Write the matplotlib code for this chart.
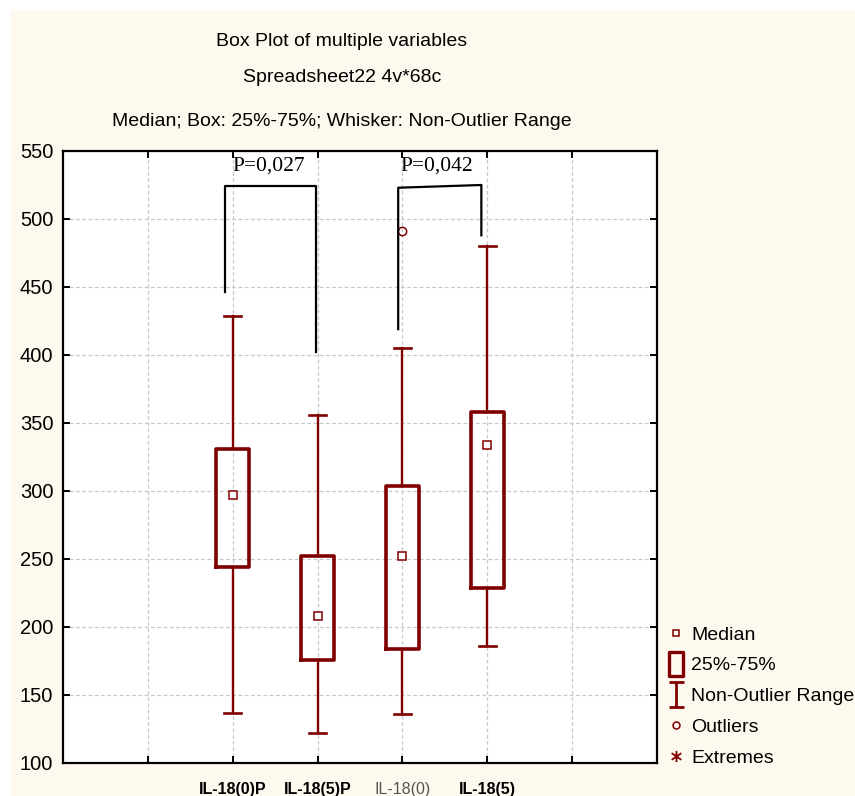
import matplotlib
matplotlib.use('Agg')
import matplotlib.pyplot as plt
from matplotlib.path import Path
from matplotlib.lines import Line2D
from matplotlib.patches import Rectangle
import numpy as np

plt.rcParams['font.family'] = ['Liberation Sans', 'DejaVu Sans']

# ---------------- data ----------------
categories = ['IL-18(0)P', 'IL-18(5)P', 'IL-18(0)', 'IL-18(5)']
positions = [2, 3, 4, 5]
medians = [297, 208, 252, 334]
q1 = [244, 176, 184, 229]
q3 = [331, 252, 304, 358]
whisk_lo = [137, 122, 136, 186]
whisk_hi = [429, 356, 405, 480]
outliers = [[], [], [491], []]

bracket1_x = [1.91, 1.91, 2.98, 2.98]
bracket1_y = [446, 524, 524, 402]
bracket2_x = [3.95, 3.95, 4.93, 4.93]
bracket2_y = [419, 523, 525, 488]
p_labels = ['P=0,027', 'P=0,042']
p_x = [2.42, 4.40]
p_y = [539, 539]

title_lines = ['Box Plot of multiple variables',
               'Spreadsheet22 4v*68c',
               'Median; Box: 25%-75%; Whisker: Non-Outlier Range']
legend_labels = ['Median', '25%-75%', 'Non-Outlier Range', 'Outliers', 'Extremes']
yticks = [100, 150, 200, 250, 300, 350, 400, 450, 500, 550]

RED = '#800000'
CREAM = '#FEF9EE'

fig = plt.figure(figsize=(8.55, 7.96), dpi=100, facecolor='white')
fig.patches.append(Rectangle((11 / 855, 0), 1, 1 - 10 / 796, transform=fig.transFigure,
                             facecolor=CREAM, edgecolor='none', zorder=-10))

ax = fig.add_axes([63 / 855, 33 / 796, (657 - 63) / 855, (763 - 151) / 796])
ax.set_facecolor('white')

stats = []
for i, c in enumerate(categories):
    stats.append(dict(label=c, med=medians[i], q1=q1[i], q3=q3[i],
                      whislo=whisk_lo[i], whishi=whisk_hi[i],
                      fliers=np.array(outliers[i], dtype=float)))

ax.bxp(stats, positions=positions, widths=0.39, capwidths=0.2, showfliers=True,
       boxprops=dict(color=RED, lw=2.6),
       whiskerprops=dict(color=RED, lw=1.7),
       capprops=dict(color=RED, lw=1.9),
       medianprops=dict(lw=0),
       flierprops=dict(marker='o', mfc='none', mec=RED, ms=6, mew=1.1),
       manage_ticks=False, zorder=3)
ax.plot(positions, medians, ls='none', marker='s', ms=5.5, mfc='white',
        mec=RED, mew=1.1, zorder=5)

# significance brackets
ax.plot(bracket1_x, bracket1_y, color='black', lw=1.6, zorder=4, clip_on=False)
ax.plot(bracket2_x, bracket2_y, color='black', lw=1.6, zorder=4, clip_on=False)
for t, x, y in zip(p_labels, p_x, p_y):
    ax.text(x, y, t, ha='center', va='center', fontsize=15.5,
            family=['Liberation Serif', 'DejaVu Serif'])

ax.set_xlim(0, 7)
ax.set_ylim(100, 550)
ax.set_yticks(yticks)
ax.set_xticks([1, 2, 3, 4, 5, 6])
ax.set_xticklabels([''] + categories + [''])
ax.grid(True, color='#c8c8c8', ls=(0, (3, 2)), lw=0.9, zorder=0)
ax.set_axisbelow(True)
for s in ax.spines.values():
    s.set_linewidth(1.6)
    s.set_color('black')
ax.tick_params(axis='both', direction='in', length=5, width=1.4,
               top=True, right=True, labelsize=14.5)
ax.tick_params(axis='y', pad=7)
ax.tick_params(axis='x', pad=14)

for lab, w, col in zip(ax.get_xticklabels()[1:5],
                       ['bold', 'bold', 'normal', 'bold'],
                       ['black', 'black', '#555555', 'black']):
    lab.set_fontweight(w)
    lab.set_color(col)
    lab.set_fontsize(11.5)

# titles
for t, y in zip(title_lines, [42, 78, 121]):
    fig.text(342 / 855, 1 - y / 796, t, ha='center', va='center', fontsize=14)

# legend
box_path = Path([(-0.6, -1), (0.6, -1), (0.6, 1), (-0.6, 1), (-0.6, -1)],
                [Path.MOVETO, Path.LINETO, Path.LINETO, Path.LINETO, Path.CLOSEPOLY])
ibeam = Path([(-0.6, 1), (0.6, 1), (0, 1), (0, -1), (-0.6, -1), (0.6, -1)],
             [Path.MOVETO, Path.LINETO, Path.MOVETO, Path.LINETO, Path.MOVETO, Path.LINETO])
aster = Path([(0, -1), (0, 1), (-0.87, -0.6), (0.87, 0.6), (-0.87, 0.6), (0.87, -0.6)],
             [Path.MOVETO, Path.LINETO, Path.MOVETO, Path.LINETO, Path.MOVETO, Path.LINETO])
handles = [
    Line2D([], [], ls='none', marker='s', ms=5, mfc='none', mec=RED, mew=1.1),
    Line2D([], [], ls='none', marker=box_path, ms=17, mfc='none', mec=RED, mew=2.4),
    Line2D([], [], ls='none', marker=ibeam, ms=18, mfc='none', mec=RED, mew=2.0),
    Line2D([], [], ls='none', marker='o', ms=5, mfc='none', mec=RED, mew=1.1),
    Line2D([], [], ls='none', marker=aster, ms=8, mfc='none', mec=RED, mew=1.3),
]
fig.legend(handles, legend_labels, loc='upper left',
           bbox_to_anchor=(666 / 855, 1 - 626 / 796), bbox_transform=fig.transFigure,
           frameon=False, fontsize=14, handlelength=1.0, handletextpad=0.3,
           labelspacing=0.68, borderpad=0, borderaxespad=0)

fig.savefig('out.png', dpi=100, facecolor=fig.get_facecolor())
